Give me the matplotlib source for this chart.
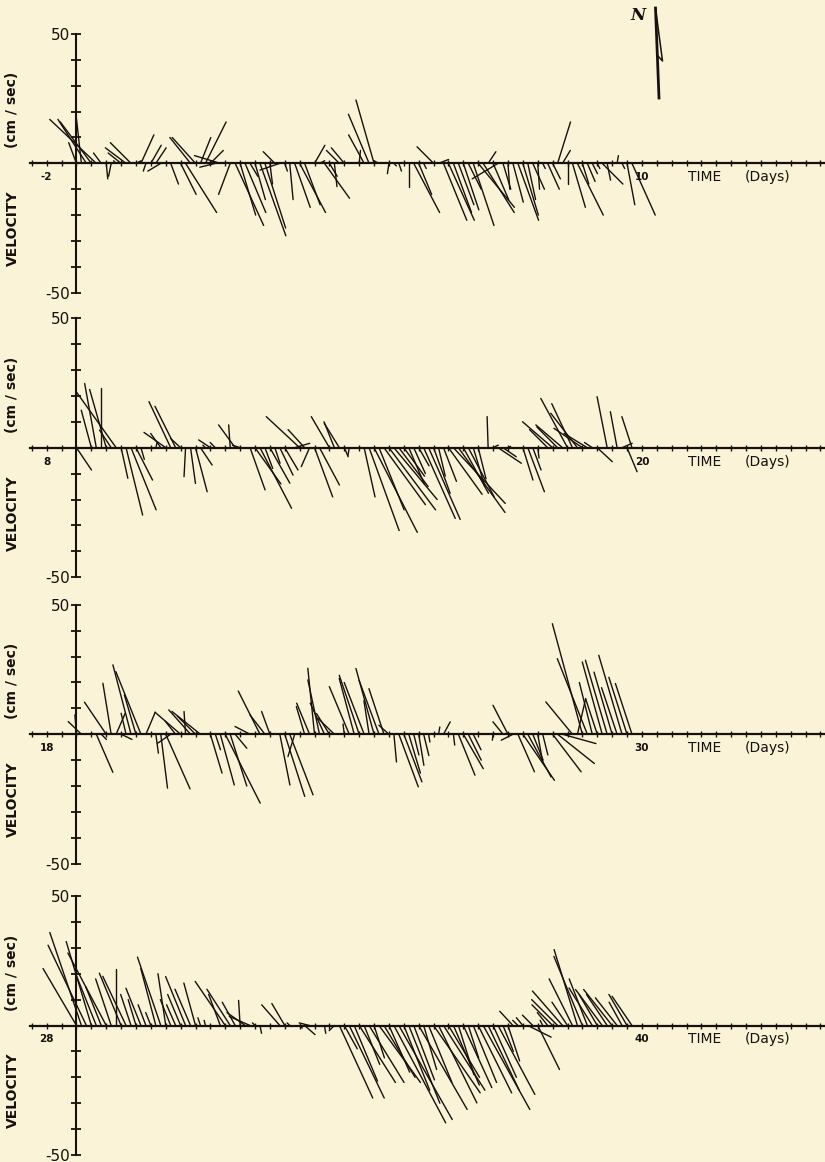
import numpy as np
import matplotlib
matplotlib.use("Agg")
import matplotlib.pyplot as plt
from matplotlib.collections import LineCollection
from matplotlib.lines import Line2D

# day labels at the two ends of each strip
DAY_START = [-2, 8, 18, 28]
DAY_END = [10, 20, 30, 40]
DT = 0.1      # days between sticks
FIRST = 0.6   # first stick (= y axis), days after the start label

# stick components (cm/sec): V = north, U = east, one value every DT days
V1 = [8, 18, 17, 16, 17, 4, -6, -5, 1, 4,
      6, 8, 1, 11, -3, 7, 6, -3, 0.5, -8,
      0, -12, -19, 10, 10, 10, 16, 5, -1.5, 3,
      0, -12, -24, -20, -19, -5, -14, -28, -25, -8,
      4.5, -2.6, -3, -14, -17, -19, -16, 0, 7, 1,
      -13.5, -5, -9, 5, 6, 0, 0, 5, 11, 19,
      24.5, 1, 0, -4, -1, -3, 0, -9, -19, -12,
      -2, 0, 6.4, 1.5, -22, -22, -19, -16, -18, -10,
      -24, -17, -19, 4.5, -14, -6, -10, -10, -15, -22,
      -20, -14, -10, -10, -2, -10, -6, 16, 5, -8,
      -17, -20, -8, -7, -4, -2, -8, -6.5, 0, 3,
      -2, -16, -20]
U1 = [-3, -2, -11, -12, -18, -3, 0.6, -1, -1, -5,
      -8, -8, 2, 5, -1, 4, 4, -5, 0, 3,
      0, 6, 12, -8, -9, 4, 8, 5, -6, -10,
      0, -4.5, 11, 6, 8, 3, 4, 10, 8, 1,
      -4.5, -7.7, 1, 1.3, 6, 10, 6, 0, 4, 2,
      9.7, 3, 1, -5, -5, 0, 0, 0.5, -6, -8,
      -7, -2, 0, -0.6, 1, 1, 0, 0, 10, 5,
      1, 0, -6.4, 3.9, 9, 10, 7, 6, 6, 5,
      8, 14, 12, 3, 6, -10, 3, 0.7, 4, 8,
      6, 3, 4.5, 0.7, 1, 4.5, 3, 5, 3, 0,
      5, 10, 2.5, 3, 2, 1, 8, 1.3, 0, 0.5,
      1, 3, 9]

V2 = [-8.6, 0, 0, 14.5, 24.8, 23, 22.5, 6.8, 21.6, -11.8,
      -26, -24, -12.5, -4.5, 0, 0, 2, 5.5, 5.9, 17.8,
      16, 3.6, -11.2, -13.8, -17, -6.7, 1, 3, 2, 0,
      0, 8.8, 8.8, 1, 0, -16.3, -14, -23.4, -8, -13.7,
      -6, -10.6, -8.6, 0, 1.7, 12, 7, -7.3, -19, -14.4,
      0, 12, 10, 9.4, -3.5, -3, 0, 0, -19, -32,
      -32.7, -24, -22, -24, -20, -15, -11, -14, -10, -7,
      -27.3, -27.7, -17.6, -11, -13, -18, -21.5, -25, -17.6, -19,
      -15, -12, 0, 12, 1, -6, -3.5, 0.5, 0, 0,
      -12.5, -17, -8.6, -4, 0, 7, 10, 8, 8.8, 19,
      17, 13.3, 7.5, 5.5, 2, -5.4, 0, 19.7, 0, 13.9,
      1.7, -9.3, 12]
U2 = [5.8, 0, 0, -3.9, -4.5, 0, -6.4, -4.5, -15.4, 2.6,
      6.4, 9.7, 6.4, 1.3, 0, 0, 0.5, -3.9, -8.4, -8.4,
      -8, -3.9, -0.6, 1.9, 4.5, 4.5, -1, -4.5, -2, 0,
      0, -0.6, -6.4, -3, 0, 5.8, 10, 12.2, 3, 7.7,
      2, 5.1, 5.1, 0, 5.8, -12.9, -6.4, -3.2, 7, 7.7,
      0, -7, -4, -5.8, 1.5, -0.5, 0, 0, 4.2, 11.6,
      16.7, 9.7, 16, 18, 16.7, 11.3, 8, 6, 4.5, 4,
      12.2, 12.2, 6.4, 2.6, 5, 13, 20, 18, 9.7, 10,
      4.5, 3, 0, -0.4, 2, 9, 5.1, 1, 0, 0,
      3.9, 6.4, 3.2, 0.5, 0, -7, -11.6, -8, -10.3, -10.3,
      -8, -10.3, -11, -9, -3, 5.8, 0, -3.9, 0, -2.6,
      3.9, 3.9, -3.9]

V3 = [7.5, 4.9, 0, 0, -14.7, -2, 12.4, 19.7, 8.1, -2,
      8.1, 26.8, 15.2, 24.2, 8.5, 0, -7.3, -20.8, -21.1, -3.5,
      5, 8.5, 8.8, 9.4, 7, 8.8, 0, -15, -6, -19.6,
      -26.6, -20, -5.4, 0, 0, 3, 0, 16.7, 7.5, 8.8,
      0, -19.6, -24, -23.4, -8.6, 0, 10.7, 12, 25.5, 21,
      12, 8, 6.2, 0, 4, 18.4, 21.6, 22.8, 20, 13,
      25.4, 20.8, 17.6, 3.5, -10.7, -20.3, -18.4, -15, -8, -12,
      -8.2, -3, 0, 2.8, 4.8, 0, -4.2, -15.8, -13.3, -10,
      -6, 0, 0, 0, -2.3, 0, 4.8, 11.2, -2.3, -14.5,
      -17.8, -16.5, -10, -10.7, -8, 0, -14.5, -11.3, -3.6, 0,
      12.5, 13.8, 42.7, 29.2, 20, 13.7, 27.9, 28.6, 24, 18,
      30.5, 22, 19.6]
U3 = [-0.6, -5.1, 0, 0, 6.4, 2, -8.4, -3.2, 3.5, 4.2,
      -1.9, -7, -4.5, -9.7, 3.6, 0, 1, 2.6, 9.4, -5.1,
      -4, -9.9, -0.6, -8.4, -7, -11, 0, 4.5, 2, 5.4,
      13.5, 6.4, 4.5, 0, 0, -5.8, 0, -8.4, -5.8, -3.2,
      0, 3.9, 7.7, 9, -2.6, 0, -3.2, -5, -2.6, -4.5,
      -5.5, -5, -6.4, 0, -0.5, -7.7, -5.8, -7.7, -7.7, -2,
      -7, -7.7, -5.8, -3.9, 1, 7.5, 7, 4.5, 2, 2,
      2, 0.5, 0, 0.5, 2.6, 0, 0.5, 6.4, 7.7, 5,
      3, 0, 0, 0, -0.3, 0, -3.9, -5.8, -4.5, 6.4,
      12.2, 9, 4, 1.9, 2, 0, 11, 14.2, 12.9, 0,
      -10.3, 3.2, -11.6, -11.6, -5, -4.5, -7.7, -8.4, -7, -6,
      -9, -7, -6.4]

V4 = [22, 35.9, 31, 32.4, 20, 15, 28, 18, 22, 20.2,
      19, 12, 10, 14.4, 8, 5, 22, 26.4, 20, 10,
      8, 12, 18.9, 14, 16.4, 3, 2, 0, 0, 12,
      17, 14, 9, 9.7, 5, 3.5, 1, -3, 0, 0,
      0, 8, 8.5, 1, 0, -1, -3.5, 1, 0, 0,
      -3, 0, -2, -28, -9, -28, -21.5, -22, -15, -22,
      -12.5, -22, -20, -18, -37.6, -36.3, -25, -30, -21, -32.4,
      -17, -22, -26, -29.9, -25, -20, -23, -19, -24, -12.5,
      -22, -26, -32.4, -25, -20, -26.6, -10, -13.7, 5.5, 2,
      3, -4.5, 4, -17, 2, 5, 8, 10, 13.3, 9,
      18, 29.3, 26.7, 18, 14.5, 12, 13.9, 12, 13.9, 10.7,
      9, 12, 11.3]
U4 = [-12.9, -12.2, -14.8, -9.7, -8, -6, -14.8, -6, 0, -8.4,
      -9, -4, -3, -5.8, -3, -2, -5.8, -9, -3, -4,
      -3.5, -5, -7.7, -6, -4.5, -1, -0.5, 0, 0, -4.5,
      -11.6, -9, -5, -0.6, -7, -8, -1, 0.6, 0, 0,
      0, -7, -5, -1, 0, 1, 4, -4, 0, 0,
      0.5, 0, -2, 12.9, 5, 13.5, 9, 14, 6, 13.5,
      4, 16, 12, 8, 20, 20.6, 10, 12, 8, 18.7,
      5, 9, 18, 14.8, 16, 12, 10, 6, 11, 4,
      9, 12.9, 18, 12, 9, 14.2, 4, 4.5, -5.1, -2,
      -2.5, 9, -4, 8.4, -1, -4, -8, -10, -11.6, -6,
      -9, -9, -11, -7, -9, -7, -10.3, -8, -11, -8.4,
      -5, -7, -7.7]

SERIES = [(V1, U1), (V2, U2), (V3, U3), (V4, U4)]

BG = "#fbf3d7"
INK = "#16110d"
W, H = 825, 1162

# strip geometry in pixels: y of +50 and -50, and horizontal layout
ROWS = [(34, 292.7), (318.2, 577.2), (604.8, 863.7), (896, 1155)]
X0, X1 = 30, 825
PX_DAY = 49.6        # pixels per day
LABEL_PX = 46.7      # x of the start-day label

plt.rcParams["font.family"] = ["DejaVu Sans"]
fig = plt.figure(figsize=(W / 100, H / 100), dpi=100, facecolor=BG)

for (top, bot), t0, t1, (v, u) in zip(ROWS, DAY_START, DAY_END, SERIES):
    ax = fig.add_axes([X0 / W, 1 - bot / H, (X1 - X0) / W, (bot - top) / H])
    ax.set_facecolor("none")
    xlo = t0 - (LABEL_PX - X0) / PX_DAY
    xhi = t0 + (X1 - LABEL_PX) / PX_DAY
    ax.set_xlim(xlo, xhi)
    ax.set_ylim(-50, 50)

    for s in ("top", "right"):
        ax.spines[s].set_visible(False)
    ax.spines["left"].set_position(("data", t0 + FIRST))
    ax.spines["bottom"].set_position(("data", 0))
    ax.spines["left"].set_linewidth(1.5)
    ax.spines["bottom"].set_linewidth(1.6)
    ax.spines["left"].set_color(INK)
    ax.spines["bottom"].set_color(INK)

    yt = np.arange(-50, 51, 10)
    ax.set_yticks(yt)
    ax.set_yticklabels(["-50" if y == -50 else ("50" if y == 50 else "") for y in yt])
    ax.tick_params(axis="y", direction="inout", length=7, width=1.3,
                   labelsize=11, pad=1, colors=INK)
    ax.set_xticks(np.arange(t0 - 0.3, xhi, 0.3))
    ax.tick_params(axis="x", direction="inout", length=4, width=1.0,
                   labelbottom=False, colors=INK)

    # sticks drawn with equal pixel scale for east and north components
    sx = (ax.bbox.height / 100) / (ax.bbox.width / (xhi - xlo))
    n = min(len(v), len(u))
    t = t0 + FIRST + DT * np.arange(n)
    vv = np.asarray(v[:n], float)
    uu = np.asarray(u[:n], float)
    segs = [[(ti, 0), (ti + ui * sx, vi)] for ti, ui, vi in zip(t, uu, vv)]
    ax.add_collection(LineCollection(segs, colors=INK, linewidths=1.0,
                                     capstyle="round", zorder=3))

    lab = dict(textcoords="offset points", ha="center", va="center",
               fontsize=7.5, fontweight="bold", color=INK)
    ax.annotate(str(t0), xy=(t0, 0), xytext=(0, -10), **lab)
    ax.annotate(str(t1), xy=(t1, 0), xytext=(0, -10), **lab)
    ax.annotate("TIME", xy=(t0 + 12.93, 0), xytext=(0, -10),
                textcoords="offset points", ha="left", va="center",
                fontsize=10, color=INK)
    ax.annotate("(Days)", xy=(t0 + 14.08, 0), xytext=(0, -10),
                textcoords="offset points", ha="left", va="center",
                fontsize=10, color=INK)

    zero = (top + bot) / 2
    fig.text(12.5 / W, 1 - (zero + 65) / H, "VELOCITY", rotation=90,
             ha="center", va="center", fontsize=10, fontweight="bold", color=INK)
    fig.text(12.5 / W, 1 - (zero - 53) / H, "(cm / sec)", rotation=90,
             ha="center", va="center", fontsize=10, fontweight="bold", color=INK)

# north arrow (top right)
fig.text(638 / W, 1 - 16 / H, "N", family="DejaVu Serif", style="italic",
         weight="bold", fontsize=12, ha="center", va="center", color=INK)
px = lambda xs, ys: ([x / W for x in xs], [1 - y / H for y in ys])
xs, ys = px([655.5, 659], [8, 98])
fig.add_artist(Line2D(xs, ys, transform=fig.transFigure, color=INK, lw=2.0))
xs, ys = px([655.5, 662.5, 658], [8, 61, 56])
fig.add_artist(Line2D(xs, ys, transform=fig.transFigure, color=INK, lw=1.1))

fig.savefig("out.png", dpi=100, facecolor=BG)
